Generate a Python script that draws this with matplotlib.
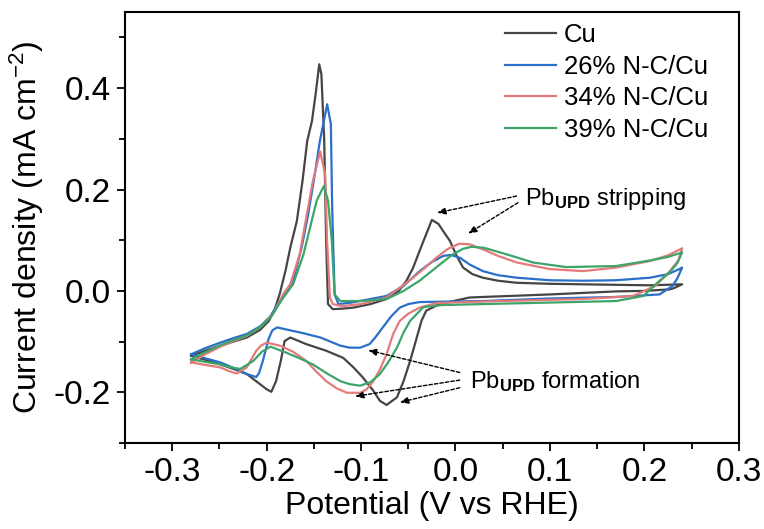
import matplotlib
matplotlib.use("Agg")
import matplotlib.pyplot as plt

plt.rcParams['font.family'] = ['Liberation Sans', 'DejaVu Sans']
plt.rcParams['mathtext.fontset'] = 'custom'
plt.rcParams['mathtext.rm'] = 'Liberation Sans'
plt.rcParams['mathtext.it'] = 'Liberation Sans:italic'
plt.rcParams['mathtext.bf'] = 'Liberation Sans:bold'

# Cyclic voltammograms: anodic sweep from -0.28 V to 0.24 V, then back (cathodic)
cu_potential = [
    -0.280, -0.265, -0.249, -0.235, -0.221, -0.207, -0.198, -0.192, -0.186, -0.180,
    -0.175, -0.168, -0.162, -0.157, -0.152, -0.148, -0.1443, -0.142, -0.139, -0.137,
    -0.135, -0.130, -0.120, -0.108, -0.090, -0.073, -0.060, -0.052, -0.045, -0.038,
    -0.031, -0.025, -0.018, -0.012, -0.006, 0.001, 0.008, 0.018, 0.029, 0.045,
    0.065, 0.100, 0.135, 0.170, 0.206, 0.240,
    0.232, 0.227, 0.200, 0.170, 0.100, 0.029, 0.015, -0.017, -0.031, -0.036,
    -0.041, -0.048, -0.055, -0.062, -0.073, -0.080, -0.087, -0.098, -0.108, -0.119,
    -0.137, -0.158, -0.175, -0.181, -0.185, -0.190, -0.195, -0.200, -0.207, -0.221,
    -0.235, -0.249, -0.267, -0.280,
]
cu_current = [
    -0.128, -0.118, -0.108, -0.100, -0.092, -0.077, -0.060, -0.040, -0.005, 0.040,
    0.085, 0.138, 0.217, 0.296, 0.335, 0.390, 0.447, 0.427, 0.296, 0.099,
    -0.026, -0.036, -0.035, -0.033, -0.026, -0.016, 0.000, 0.020, 0.045, 0.079,
    0.112, 0.140, 0.132, 0.115, 0.099, 0.070, 0.046, 0.033, 0.026, 0.020,
    0.016, 0.014, 0.013, 0.012, 0.011, 0.013,
    0.006, 0.003, 0.000, -0.001, -0.007, -0.012, -0.013, -0.026, -0.039, -0.059,
    -0.092, -0.138, -0.178, -0.210, -0.225, -0.217, -0.197, -0.171, -0.151, -0.132,
    -0.118, -0.105, -0.092, -0.099, -0.138, -0.178, -0.199, -0.194, -0.184, -0.164,
    -0.154, -0.145, -0.135, -0.128,
]

nc26_potential = [
    -0.280, -0.265, -0.249, -0.235, -0.221, -0.207, -0.196, -0.188, -0.180, -0.172,
    -0.163, -0.156, -0.149, -0.1436, -0.1359, -0.132, -0.1306, -0.128, -0.124, -0.110,
    -0.090, -0.073, -0.055, -0.038, -0.025, -0.013, -0.005, 0.005, 0.015, 0.029,
    0.045, 0.065, 0.100, 0.135, 0.170, 0.206, 0.225, 0.237, 0.240,
    0.235, 0.230, 0.216, 0.170, 0.100, 0.029, -0.038, -0.050, -0.059, -0.068,
    -0.077, -0.085, -0.091, -0.101, -0.112, -0.122, -0.143, -0.160, -0.172, -0.189,
    -0.194, -0.198, -0.204, -0.208, -0.211, -0.221, -0.235, -0.249, -0.265, -0.280,
]
nc26_current = [
    -0.125, -0.113, -0.102, -0.093, -0.085, -0.070, -0.050, -0.025, -0.005, 0.020,
    0.085, 0.151, 0.230, 0.296, 0.368, 0.329, 0.164, -0.007, -0.026, -0.023,
    -0.016, -0.010, 0.010, 0.039, 0.057, 0.069, 0.071, 0.065, 0.052, 0.039,
    0.031, 0.026, 0.021, 0.020, 0.021, 0.026, 0.033, 0.043, 0.046,
    0.025, 0.010, -0.007, -0.012, -0.015, -0.020, -0.022, -0.026, -0.033, -0.050,
    -0.072, -0.092, -0.105, -0.112, -0.112, -0.108, -0.092, -0.084, -0.079, -0.072,
    -0.078, -0.095, -0.138, -0.162, -0.170, -0.164, -0.152, -0.141, -0.133, -0.125,
]

nc34_potential = [
    -0.280, -0.265, -0.249, -0.235, -0.221, -0.207, -0.193, -0.182, -0.175, -0.165,
    -0.158, -0.151, -0.1433, -0.138, -0.136, -0.133, -0.130, -0.120, -0.100, -0.073,
    -0.060, -0.045, -0.032, -0.020, -0.008, 0.004, 0.015, 0.029, 0.045, 0.065,
    0.100, 0.135, 0.170, 0.206, 0.225, 0.240,
    0.236, 0.227, 0.212, 0.188, 0.135, 0.029, -0.020, -0.038, -0.050, -0.059,
    -0.066, -0.073, -0.080, -0.087, -0.094, -0.101, -0.115, -0.126, -0.137, -0.148,
    -0.158, -0.172, -0.186, -0.200, -0.206, -0.211, -0.221, -0.232, -0.240, -0.249,
    -0.265, -0.280,
]
nc34_current = [
    -0.141, -0.125, -0.110, -0.099, -0.089, -0.072, -0.045, -0.005, 0.013, 0.072,
    0.145, 0.217, 0.275, 0.230, 0.099, -0.013, -0.026, -0.030, -0.026, -0.013,
    0.005, 0.026, 0.046, 0.066, 0.083, 0.093, 0.092, 0.082, 0.069, 0.056,
    0.043, 0.039, 0.046, 0.059, 0.070, 0.084,
    0.060, 0.039, 0.010, -0.010, -0.016, -0.021, -0.024, -0.033, -0.045, -0.059,
    -0.085, -0.125, -0.155, -0.178, -0.194, -0.201, -0.201, -0.192, -0.178, -0.158,
    -0.138, -0.120, -0.108, -0.102, -0.108, -0.118, -0.151, -0.163, -0.158, -0.151,
    -0.146, -0.141,
]

nc39_potential = [
    -0.280, -0.265, -0.249, -0.235, -0.221, -0.207, -0.195, -0.183, -0.172, -0.161,
    -0.154, -0.147, -0.1394, -0.135, -0.131, -0.128, -0.122, -0.100, -0.073, -0.055,
    -0.038, -0.020, -0.003, 0.008, 0.017, 0.030, 0.047, 0.065, 0.082, 0.117,
    0.170, 0.206, 0.225, 0.240,
    0.235, 0.226, 0.216, 0.199, 0.170, 0.100, 0.029, -0.015, -0.034, -0.048,
    -0.055, -0.062, -0.071, -0.080, -0.090, -0.101, -0.112, -0.122, -0.136, -0.151,
    -0.165, -0.179, -0.196, -0.205, -0.214, -0.228, -0.240, -0.249, -0.265, -0.280,
]
nc39_current = [
    -0.135, -0.121, -0.107, -0.097, -0.088, -0.072, -0.050, -0.015, 0.013, 0.072,
    0.125, 0.178, 0.207, 0.178, 0.099, -0.007, -0.020, -0.020, -0.016, 0.000,
    0.020, 0.047, 0.072, 0.083, 0.087, 0.085, 0.076, 0.066, 0.056, 0.047,
    0.049, 0.060, 0.067, 0.076,
    0.055, 0.035, 0.020, -0.010, -0.020, -0.023, -0.026, -0.028, -0.032, -0.059,
    -0.082, -0.112, -0.140, -0.164, -0.180, -0.187, -0.184, -0.178, -0.163, -0.145,
    -0.133, -0.122, -0.110, -0.120, -0.138, -0.154, -0.150, -0.145, -0.140, -0.135,
]

labels = ['Cu', '26% N-C/Cu', '34% N-C/Cu', '39% N-C/Cu']
colors = ['#454545', '#2a6fc9', '#e57a7a', '#3da46a']

x_ticks = [-0.3, -0.2, -0.1, 0.0, 0.1, 0.2, 0.3]
y_ticks = [-0.2, 0.0, 0.2, 0.4]

fig = plt.figure(figsize=(7.64, 5.29), dpi=100)
ax = fig.add_axes([0.1636, 0.1626, 0.8034, 0.8146])

series = [
    (cu_potential, cu_current),
    (nc26_potential, nc26_current),
    (nc34_potential, nc34_current),
    (nc39_potential, nc39_current),
]
for (xs, ys), lab, col in zip(series, labels, colors):
    ax.plot(xs, ys, color=col, lw=1.6, label=lab, solid_joinstyle='round')

ax.set_xlim(-0.35, 0.3)
ax.set_ylim(-0.3, 0.55)
ax.set_xticks(x_ticks)
ax.set_xticklabels([f'{t:.1f}' for t in x_ticks])
ax.set_yticks(y_ticks)
ax.set_yticklabels([f'{t:.1f}' for t in y_ticks])
ax.set_xticks([-0.35, -0.25, -0.15, -0.05, 0.05, 0.15, 0.25], minor=True)
ax.set_yticks([-0.3, -0.1, 0.1, 0.3, 0.5], minor=True)
ax.tick_params(which='major', direction='out', length=6, width=1.3, labelsize=24, pad=4)
ax.tick_params(which='minor', direction='out', length=4, width=1.3)
for sp in ax.spines.values():
    sp.set_linewidth(1.5)

ax.set_xlabel('Potential (V vs RHE)', fontsize=23, labelpad=2)
ax.set_ylabel('Current density (mA cm$^{-2}$)', fontsize=23, labelpad=6)

leg = ax.legend(loc='upper left', bbox_to_anchor=(0.619, 0.975), frameon=False,
                fontsize=18.5, handlelength=2.0, handletextpad=0.3,
                labelspacing=0.3, borderpad=0, borderaxespad=0)

arrow_kw = dict(arrowstyle='-|>,head_length=0.5,head_width=0.2', color='black',
                lw=1.0, linestyle=(0, (2.5, 1.5)), shrinkA=0, shrinkB=0)

# Pb UPD stripping peaks
ax.annotate('', xy=(-0.0195, 0.154), xytext=(0.0646, 0.187), arrowprops=arrow_kw)
ax.annotate('', xy=(0.0133, 0.113), xytext=(0.0662, 0.174), arrowprops=arrow_kw)
ax.text(0.0733, 0.181, r'Pb$_{\mathbf{UPD}}$ stripping', fontsize=17, va='center', ha='left')

# Pb UPD formation peaks
ax.annotate('', xy=(-0.0925, -0.117), xytext=(0.0045, -0.161), arrowprops=arrow_kw)
ax.annotate('', xy=(-0.1066, -0.208), xytext=(0.0045, -0.176), arrowprops=arrow_kw)
ax.annotate('', xy=(-0.059, -0.220), xytext=(0.0045, -0.191), arrowprops=arrow_kw)
ax.text(0.0151, -0.178, r'Pb$_{\mathbf{UPD}}$ formation', fontsize=17, va='center', ha='left')

fig.savefig('out.png', dpi=100)
